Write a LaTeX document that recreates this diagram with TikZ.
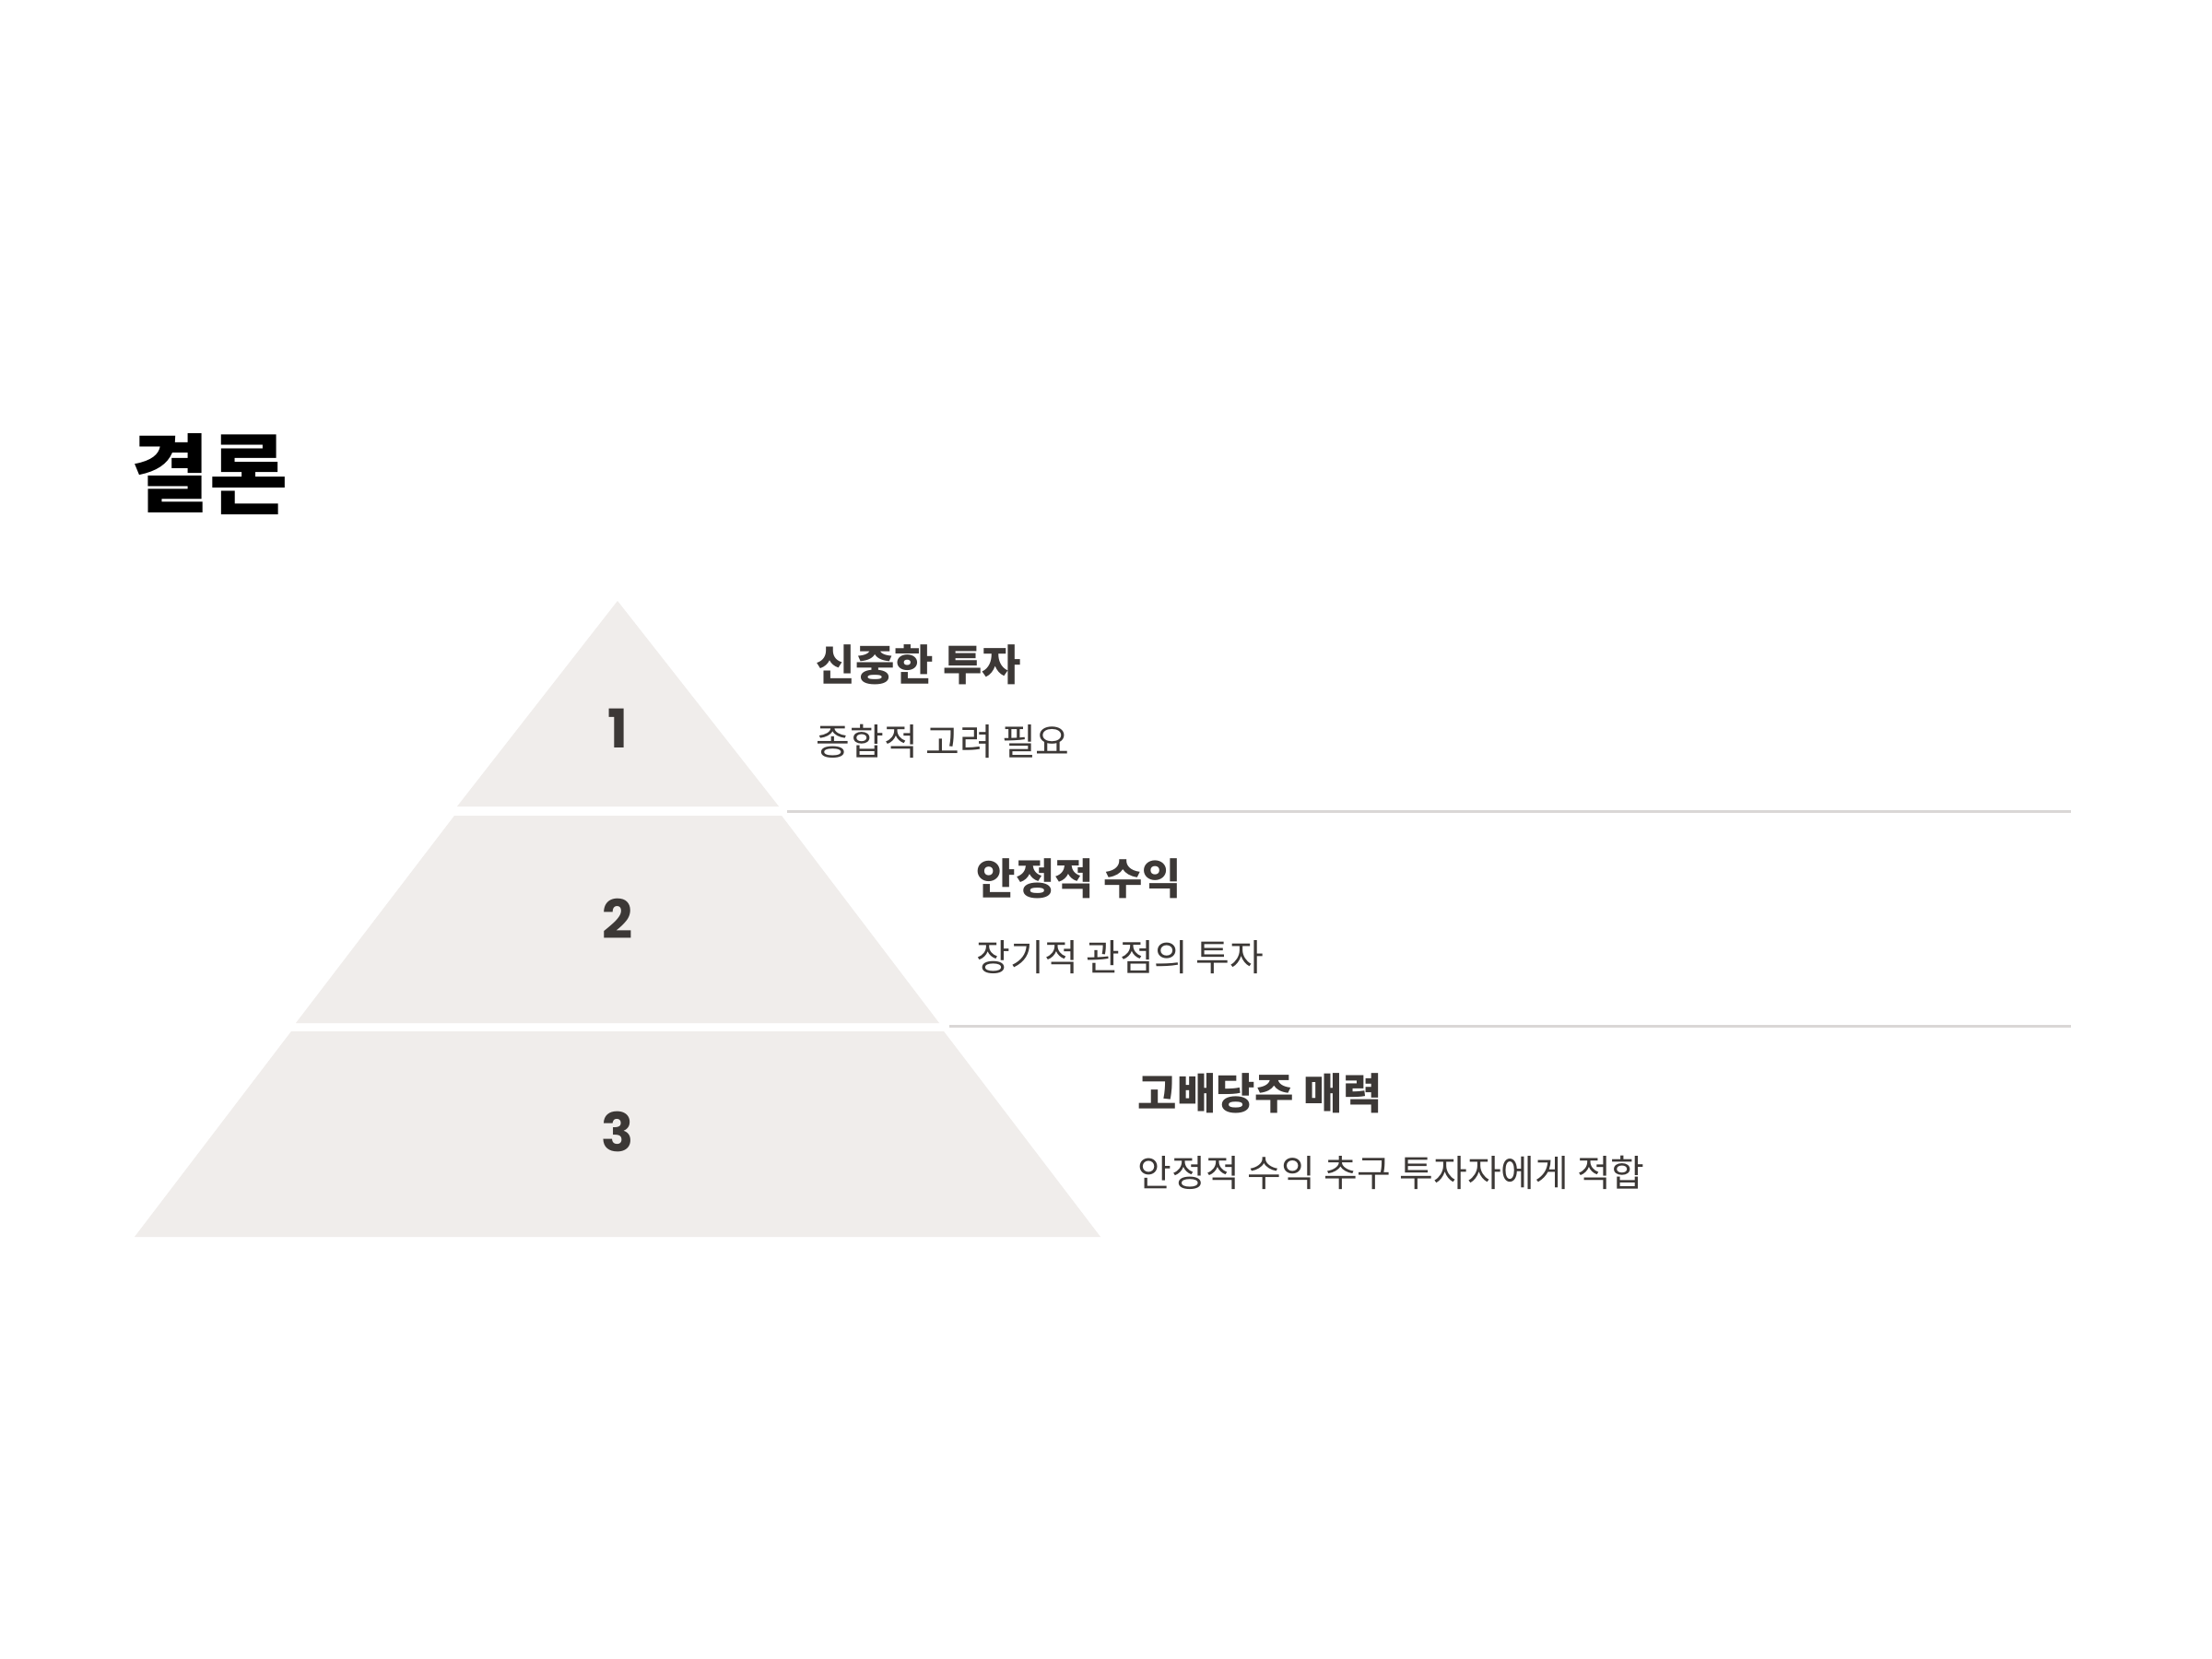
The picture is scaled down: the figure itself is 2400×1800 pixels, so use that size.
\documentclass[tikz,border=0pt]{standalone}
\usepackage{fontspec}
\newfontfamily\kr{Noto Sans CJK KR}
\newfontfamily\numf{Poppins}
\definecolor{tierfill}{HTML}{F0EDEB}
\definecolor{sepline}{HTML}{DAD7D6}
\definecolor{txt}{HTML}{3C3836}
\begin{document}
\begin{tikzpicture}[x=0.01cm,y=-0.01cm,
  tier/.style={fill=tierfill,draw=none},
  sep/.style={draw=sepline,line width=0.85pt},
  head/.style={anchor=base west,inner sep=0pt,text=txt,font=\kr\bfseries\fontsize{13.1pt}{15pt}\selectfont},
  body/.style={anchor=base west,inner sep=0pt,text=txt,font=\kr\fontsize{11.35pt}{14pt}\selectfont},
  num/.style={anchor=base,inner sep=0pt,text=txt,font=\numf\bfseries\fontsize{16.5pt}{18pt}\selectfont}]
\path[fill=white,use as bounding box] (0,0) rectangle (2400,1800);
% title
\node[anchor=base west,inner sep=0pt,font=\kr\bfseries\fontsize{26.3pt}{30pt}\selectfont] (title) at (142,548) {결론};
% pyramid tiers
\path[tier] (670,652) -- (845,875) -- (496,875) -- cycle;
\path[tier] (493,885) -- (848,885) -- (1019,1110) -- (321,1110) -- cycle;
\path[tier] (316,1119) -- (1024,1119) -- (1194,1342) -- (146,1342) -- cycle;
% numbers
\node[num] (n1) at (670,811) {1};
\node[num] (n2) at (670,1018) {2};
\node[num] (n3) at (670,1249) {3};
% separators
\coordinate (s1a) at (854,880); \coordinate (s1b) at (2247,880);
\coordinate (s2a) at (1030,1113); \coordinate (s2b) at (2247,1113);
\draw[sep] (s1a) -- (s1b);
\draw[sep] (s2a) -- (s2b);
% texts
\node[head] (h1) at (885,738) {신중한 투자};
\node[body] (b1) at (885,819) {종합적 고려 필요};
\node[head] (h2) at (1059,970) {안정적 수익};
\node[body] (b2) at (1059,1053) {장기적 관점의 투자};
\node[head] (h3) at (1234,1203) {고배당주 매력};
\node[body] (b3) at (1234,1287) {안정적 수익 추구 투자자에게 적합};
\end{tikzpicture}
\end{document}
